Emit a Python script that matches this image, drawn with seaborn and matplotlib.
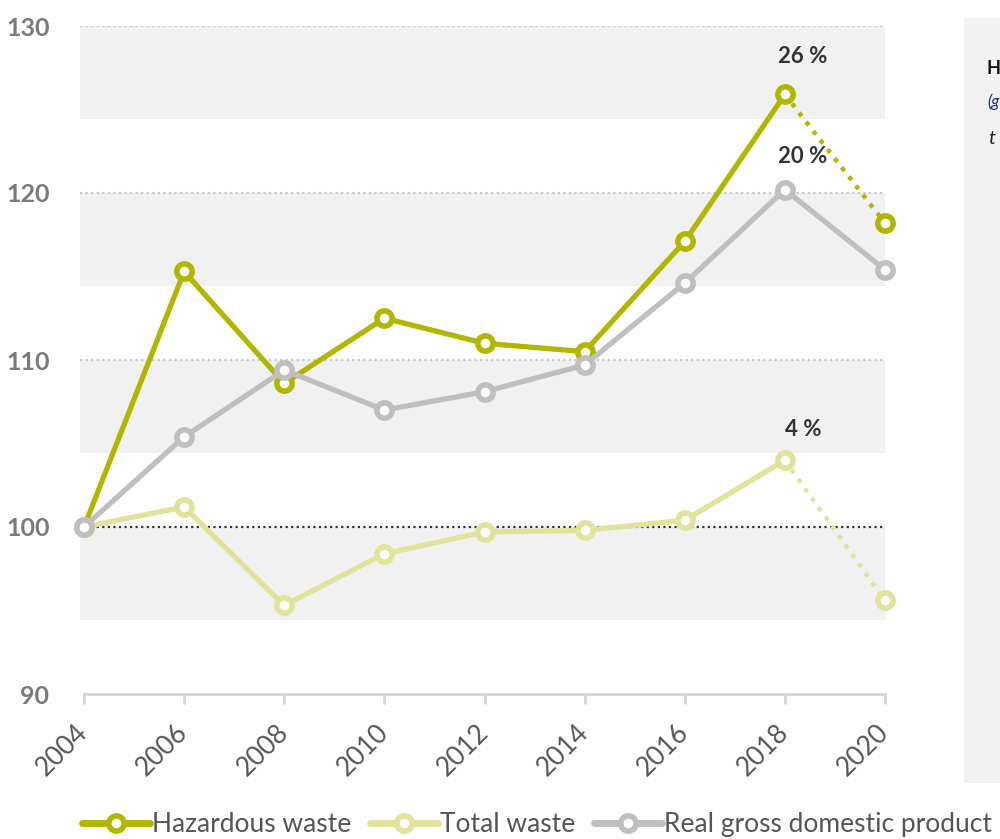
import pandas as pd
import seaborn as sns
import matplotlib.pyplot as plt
from matplotlib.lines import Line2D

# 資料
years = [2004, 2006, 2008, 2010, 2012, 2014, 2016, 2018, 2020]
hazardous = [100, 115.3, 108.6, 112.5, 111.0, 110.5, 117.1, 125.9, 118.2]
total = [100, 101.2, 95.3, 98.4, 99.7, 99.8, 100.4, 104.0, 95.6]
gdp = [100, 105.4, 109.4, 107.0, 108.1, 109.7, 114.6, 120.2, 115.4]
yticks = [90, 100, 110, 120, 130]

c_haz = "#b3b600"
c_tot = "#e2e39b"
c_gdp = "#bfbfbf"

sns.set_style("white")
plt.rcParams['font.family'] = ['Lato', 'DejaVu Sans']

fig = plt.figure(figsize=(10, 8.39), dpi=100)
ax = fig.add_axes([0.080, 1 - 694 / 839, 0.805, 668 / 839])

# 背景色帶與格線
for v in [100, 110, 120, 130]:
    ax.axhspan(v - 5.55, v, color="#f1f1f1", zorder=0, lw=0)
    if v == 100:
        ax.axhline(v, color="#333333", ls=(0, (1, 1.5)), lw=1.6, zorder=1)
    else:
        ax.axhline(v, color="#c8c8c8", ls=(0, (1, 1.5)), lw=1.6, zorder=1)

df = pd.DataFrame({"year": years, "Hazardous waste": hazardous,
                   "Total waste": total, "Real gross domestic product": gdp})

series = [("Hazardous waste", c_haz, True), ("Total waste", c_tot, True),
          ("Real gross domestic product", c_gdp, False)]
z = 3
for name, col, dotted_end in series:
    if dotted_end:
        sns.lineplot(data=df.iloc[:-1], x="year", y=name, color=col, lw=3.8, ax=ax, zorder=z)
        sns.lineplot(data=df.iloc[-2:], x="year", y=name, color=col, lw=3.2,
                     ls=(0, (1, 1.6)), ax=ax, zorder=z)
    else:
        sns.lineplot(data=df, x="year", y=name, color=col, lw=3.8, ax=ax, zorder=z)
    ax.plot(df["year"], df[name], "o", ms=11, mfc="white", mec=col, mew=4,
            zorder=z + 0.5, clip_on=False)
    z += 1

# 2018 標註
for name, dy in [("Hazardous waste", 27), ("Real gross domestic product", 24),
                 ("Total waste", 22)]:
    v = df.loc[df.year == 2018, name].iloc[0]
    ax.annotate(f"{round(v - 100)} %", xy=(2018, v), xytext=(13, dy),
                textcoords="offset points", ha="center", va="center",
                fontsize=16, fontweight="bold", color="#333333", zorder=10)

ax.set_xlim(2003.92, 2020)
ax.set_ylim(90, 130)
ax.set_xticks(years)
ax.set_xticklabels([str(y) for y in years], rotation=45, ha="right", va="center",
                   rotation_mode="anchor", fontsize=19, color="#555555")
ax.set_yticks(yticks)
ax.set_yticklabels([str(y) for y in yticks], fontsize=18, fontweight="bold",
                   color="#7a7a7a")
ax.tick_params(axis="y", length=0, pad=22)
ax.tick_params(axis="x", bottom=True, length=7, width=2, color="#d6d6d6",
               direction="out", pad=18)
ax.set_xlabel("")
ax.set_ylabel("")
for s in ["top", "right", "left"]:
    ax.spines[s].set_visible(False)
ax.spines["bottom"].set_color("#d6d6d6")
ax.spines["bottom"].set_linewidth(2)
ax.spines["bottom"].set_bounds(2004, 2020)

# 右側面板
pax = fig.add_axes([0.964, 1 - 783 / 839, 0.05, (783 - 18) / 839])
pax.set_facecolor("#f1f1f1")
pax.set_xticks([])
pax.set_yticks([])
for s in pax.spines.values():
    s.set_visible(False)
fig.text(0.987, 1 - 68 / 839, "H", fontsize=13, fontweight="bold",
         color="#111111", va="center")
fig.text(0.987, 1 - 102 / 839, "(g", fontsize=12, style="italic",
         color="#1f3864", va="center")
fig.text(0.988, 1 - 138 / 839, "t", fontsize=14, style="italic",
         color="#222222", va="center")

# 圖例
handles = [Line2D([0], [0], color=c, lw=5, marker="o", ms=11, mfc="white", mec=c, mew=4)
           for _, c, _ in series]
fig.legend(handles, [n for n, _, _ in series], loc="lower left",
           bbox_to_anchor=(0.058, -0.026), ncol=3, frameon=False, fontsize=19,
           handlelength=2.6, handletextpad=0.06, columnspacing=0.7,
           labelcolor="#555555")

fig.savefig("out.png", dpi=100)
